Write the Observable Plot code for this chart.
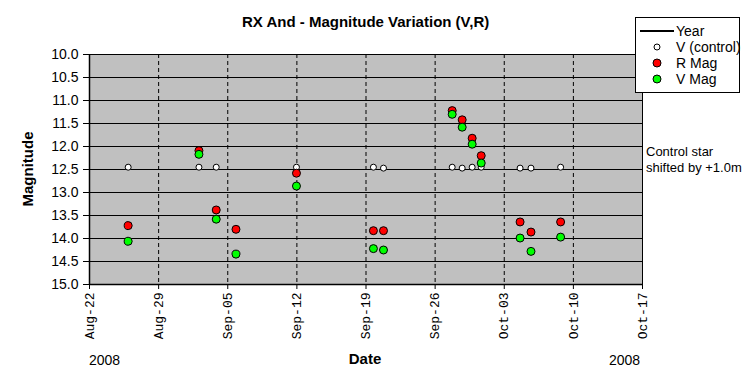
<!DOCTYPE html>
<html>
<head>
<meta charset="utf-8">
<script src="https://cdn.jsdelivr.net/npm/d3@7"></script>
<script src="https://cdn.jsdelivr.net/npm/@observablehq/plot@0.6"></script>
<style>
  html, body { margin: 0; padding: 0; background: #fff; }
  #wrap { position: relative; width: 747px; height: 387px; overflow: hidden; font-family: Arial, "Liberation Sans", sans-serif; color: #000; }
  #wrap svg { position: absolute; left: 0; top: 0; }
  .lbl { position: absolute; white-space: nowrap; }
  #legend { position: absolute; left: 635px; top: 17px; width: 105px; height: 76px; border: 1px solid #000; background: #fff; box-sizing: border-box; font-size: 14px; }
  .li { position: absolute; left: 0; height: 16px; line-height: 16px; }
  .li span.t { position: absolute; left: 40px; top: 0; white-space: nowrap; }
</style>
</head>
<body>
<div id="wrap"></div>
<script>
// Observation times (UTC)
const obsTimes = [
  "2008-08-25T22:00Z", "2008-09-02T02:00Z", "2008-09-03T20:00Z", "2008-09-05T20:00Z",
  "2008-09-11T23:00Z", "2008-09-19T18:00Z", "2008-09-20T18:30Z", "2008-09-27T17:30Z",
  "2008-09-28T17:45Z", "2008-09-29T18:00Z", "2008-09-30T16:00Z", "2008-10-04T14:30Z",
  "2008-10-05T17:00Z", "2008-10-08T17:00Z"
];
// Control star V (shifted by +1.0m); null = no measurement
const controlMag = [12.45, 12.45, 12.45, null, 12.45, 12.45, 12.47, 12.45, 12.47, 12.45, 12.45, 12.47, 12.47, 12.45];
const rMag = [13.72, 12.09, 13.38, 13.80, 12.58, 13.83, 13.83, 11.22, 11.42, 11.82, 12.20, 13.64, 13.86, 13.64];
const vMag = [14.06, 12.17, 13.58, 14.34, 12.86, 14.22, 14.25, 11.30, 11.58, 11.95, 12.36, 13.99, 14.28, 13.97];

const xTickLabels = ["2008-08-22", "2008-08-29", "2008-09-05", "2008-09-12", "2008-09-19", "2008-09-26", "2008-10-03", "2008-10-10", "2008-10-17"];
const yTicks = [10.0, 10.5, 11.0, 11.5, 12.0, 12.5, 13.0, 13.5, 14.0, 14.5, 15.0];

const parse = s => new Date(s);
const xTicks = xTickLabels.map(s => new Date(s + "T00:00Z"));
const rows = obsTimes.map((t, i) => ({date: parse(t), c: controlMag[i], r: rMag[i], v: vMag[i]}));
const ctrlRows = rows.filter(d => d.c != null);

const chart = Plot.plot({
  width: 747,
  height: 387,
  marginLeft: 89,
  marginRight: 105,
  marginTop: 54,
  marginBottom: 103,
  style: {background: "transparent", fontFamily: "Arial, 'Liberation Sans', sans-serif"},
  x: {type: "utc", domain: [xTicks[0], xTicks[xTicks.length - 1]]},
  y: {domain: [10, 15], reverse: true},
  marks: [
    Plot.frame({fill: "#c0c0c0", stroke: "none"}),
    Plot.ruleY(yTicks.slice(1, -1), {stroke: "#000", strokeWidth: 1}),
    Plot.ruleY([10], {stroke: "#000", strokeWidth: 1}),
    Plot.ruleX(xTicks.slice(1, -1), {stroke: "#000", strokeWidth: 1, strokeDasharray: "4,3"}),
    Plot.ruleX([xTicks[xTicks.length - 1]], {stroke: "#000", strokeWidth: 1}),
    Plot.axisY({ticks: yTicks, tickFormat: d => d.toFixed(1), tickSize: 6, tickPadding: 5, fontSize: 14, label: null, stroke: "#000"}),
    Plot.axisX({ticks: xTicks, tickFormat: d3.utcFormat("%b-%d"), tickSize: 5, tickPadding: 3, tickRotate: -90, fontSize: 13, fontFamily: "'Liberation Mono', 'Courier New', monospace", label: null}),
    Plot.ruleX([xTicks[0]], {stroke: "#000", strokeWidth: 1.5}),
    Plot.ruleY([15], {stroke: "#000", strokeWidth: 1.5}),
    Plot.dot(ctrlRows, {x: "date", y: "c", r: 3, fill: "#fff", stroke: "#000", strokeWidth: 1}),
    Plot.dot(rows, {x: "date", y: "r", r: 4, fill: "#ff0000", stroke: "#000", strokeWidth: 1}),
    Plot.dot(rows, {x: "date", y: "v", r: 4, fill: "#00ff00", stroke: "#000", strokeWidth: 1})
  ]
});

const wrap = document.getElementById("wrap");
wrap.appendChild(chart);

function addLabel(text, css) {
  const d = document.createElement("div");
  d.className = "lbl";
  d.innerHTML = text;
  Object.assign(d.style, css);
  wrap.appendChild(d);
  return d;
}
addLabel("RX And - Magnitude Variation (V,R)", {left: "242px", top: "13px", fontSize: "15px", fontWeight: "bold"});
addLabel("Magnitude", {left: "27px", top: "169px", fontSize: "15px", fontWeight: "bold", transform: "translate(-50%,-50%) rotate(-90deg)"});
addLabel("Date", {left: "365px", top: "358px", fontSize: "15px", fontWeight: "bold", transform: "translate(-50%,-50%)"});
addLabel("2008", {left: "89px", top: "352px", fontSize: "14px"});
addLabel("2008", {left: "609px", top: "352px", fontSize: "14px"});
addLabel("Control star", {left: "646px", top: "144px", fontSize: "13px"});
addLabel("shifted by +1.0m", {left: "646px", top: "160px", fontSize: "13px"});

// Legend
const legend = document.createElement("div");
legend.id = "legend";
const items = [
  {t: "Year", kind: "line"},
  {t: "V (control)", kind: "dot", fill: "#fff", r: 3},
  {t: "R Mag", kind: "dot", fill: "#ff0000", r: 4},
  {t: "V Mag", kind: "dot", fill: "#00ff00", r: 4}
];
items.forEach((it, i) => {
  const row = document.createElement("div");
  row.className = "li";
  row.style.top = (5 + i * 16) + "px";
  row.style.width = "100%";
  const sw = document.createElementNS("http://www.w3.org/2000/svg", "svg");
  sw.setAttribute("width", 40); sw.setAttribute("height", 16);
  sw.style.position = "absolute"; sw.style.left = "0"; sw.style.top = "0";
  if (it.kind === "line") {
    const l = document.createElementNS("http://www.w3.org/2000/svg", "line");
    l.setAttribute("x1", 4); l.setAttribute("x2", 38); l.setAttribute("y1", 8); l.setAttribute("y2", 8);
    l.setAttribute("stroke", "#000"); l.setAttribute("stroke-width", 2);
    sw.appendChild(l);
  } else {
    const c = document.createElementNS("http://www.w3.org/2000/svg", "circle");
    c.setAttribute("cx", 21); c.setAttribute("cy", 8); c.setAttribute("r", it.r);
    c.setAttribute("fill", it.fill); c.setAttribute("stroke", "#000");
    sw.appendChild(c);
  }
  row.appendChild(sw);
  const t = document.createElement("span");
  t.className = "t"; t.textContent = it.t;
  row.appendChild(t);
  legend.appendChild(row);
});
wrap.appendChild(legend);
</script>
</body>
</html>
